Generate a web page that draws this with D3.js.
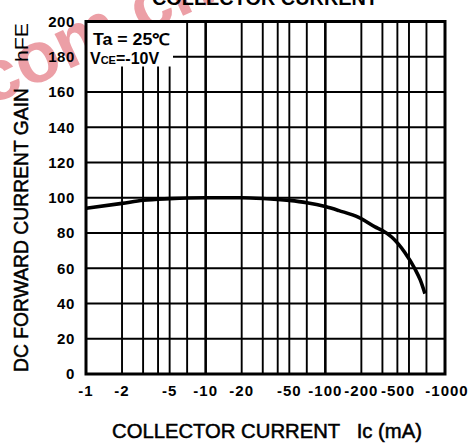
<!DOCTYPE html>
<html>
  <head>
    <meta charset="UTF-8" />
    <style>
      body {
        margin: 0;
        background: #fff;
      }
      svg {
        display: block;
        font-family: "Liberation Sans", Arial, sans-serif;
      }
    </style>
  </head>
  <body>
    <svg></svg>
    <script src="https://d3js.org/d3.v7.min.js"></script>
    <script>
      let width = 470,
        height = 443;

      // collector current (mA, absolute) and hFE
      const currentMA = [1, 2, 3, 5, 10, 20, 30, 50, 70, 100, 130, 190, 260, 300, 360, 460, 560, 620, 680];
      const hfeValues = [94, 96.8, 98.6, 99.5, 100, 100, 99.6, 98.5, 97.2, 95, 92.7, 88.9, 83.5, 81.4, 77.6, 69.1, 59.7, 53.5, 45.6];

      // grid and tick labels
      const xGrid = [1, 2, 3, 4, 5, 7, 10, 20, 30, 40, 50, 70, 100, 200, 300, 400, 500, 700, 1000];
      const xTicks = [1, 2, 5, 10, 20, 50, 100, 200, 500, 1000];
      const xTickLabels = ["-1", "-2", "-5", "-10", "-20", "-50", "-100", "-200", "-500", "-1000"];
      const yTicks = [0, 20, 40, 60, 80, 100, 120, 140, 160, 180, 200];

      let margin = { top: 21.5, right: 25, bottom: 69, left: 86 };

      let svg = d3.select("svg").attr("width", width).attr("height", height);

      let x = d3
        .scaleLog()
        .domain([1, 1000])
        .range([margin.left, width - margin.right]);
      let y = d3
        .scaleLinear()
        .domain([0, 200])
        .range([height - margin.bottom, margin.top]);

      // watermark from the scanned datasheet, sits behind the plot
      svg
        .append("text")
        .attr("transform", "translate(-10,106) rotate(-25)")
        .attr("font-size", 72)
        .attr("font-weight", "bold")
        .attr("fill", "#e0606c")
        .attr("opacity", 0.6)
        .text("com.cn");

      svg
        .append("rect")
        .attr("x", x(1))
        .attr("y", y(200))
        .attr("width", x(1000) - x(1))
        .attr("height", y(0) - y(200))
        .attr("fill", "#fff");

      // title, cut at the top edge
      svg
        .append("text")
        .attr("x", 265)
        .attr("y", 5)
        .attr("text-anchor", "middle")
        .attr("font-size", 20)
        .attr("font-weight", "bold")
        .attr("textLength", 226)
        .attr("lengthAdjust", "spacingAndGlyphs")
        .text("COLLECTOR CURRENT");

      let grid = svg.append("g").attr("stroke", "#000");

      grid
        .selectAll(".vline")
        .data(xGrid)
        .enter()
        .append("line")
        .attr("x1", (d) => x(d))
        .attr("x2", (d) => x(d))
        .attr("y1", y(0))
        .attr("y2", y(200))
        .attr("stroke-width", (d) => (d === 10 || d === 100 ? 2.6 : 1.9));

      grid
        .selectAll(".hline")
        .data(yTicks)
        .enter()
        .append("line")
        .attr("x1", x(1))
        .attr("x2", x(1000))
        .attr("y1", (d) => y(d))
        .attr("y2", (d) => y(d))
        .attr("stroke-width", 1.9);

      // condition box
      svg
        .append("rect")
        .attr("x", x(1))
        .attr("y", y(200))
        .attr("width", 87)
        .attr("height", 45)
        .attr("fill", "#fff");

      svg
        .append("text")
        .attr("x", 93)
        .attr("y", 45)
        .attr("font-size", 16)
        .attr("font-weight", "bold")
        .attr("textLength", 77)
        .attr("lengthAdjust", "spacingAndGlyphs")
        .text("Ta = 25\u2103");

      let vce = svg
        .append("text")
        .attr("x", 90)
        .attr("y", 64)
        .attr("font-size", 16)
        .attr("font-weight", "bold");
      vce.append("tspan").text("V");
      vce.append("tspan").attr("font-size", 11).text("CE");
      vce.append("tspan").text("=-10V");

      // curve
      let line = d3
        .line()
        .x((d, i) => x(currentMA[i]))
        .y((d) => y(d))
        .curve(d3.curveMonotoneX);

      svg
        .append("path")
        .datum(hfeValues)
        .attr("fill", "none")
        .attr("stroke", "#000")
        .attr("stroke-width", 3.6)
        .attr("d", line);

      // frame
      svg
        .append("rect")
        .attr("x", x(1))
        .attr("y", y(200))
        .attr("width", x(1000) - x(1))
        .attr("height", y(0) - y(200))
        .attr("fill", "none")
        .attr("stroke", "#000")
        .attr("stroke-width", 3);

      // y tick labels
      svg
        .append("g")
        .selectAll("text")
        .data(yTicks)
        .enter()
        .append("text")
        .attr("x", 75)
        .attr("y", (d) => y(d))
        .attr("dy", "0.36em")
        .attr("text-anchor", "end")
        .attr("font-size", 15)
        .attr("font-weight", "bold")
        .attr("letter-spacing", 0.6)
        .text((d) => d);

      // x tick labels
      svg
        .append("g")
        .selectAll("text")
        .data(xTicks)
        .enter()
        .append("text")
        .attr("x", (d) => x(d))
        .attr("dx", (d) => (d === 500 ? -11 : d === 1000 ? 2 : 0))
        .attr("y", 396)
        .attr("text-anchor", "middle")
        .attr("font-size", 15)
        .attr("font-weight", "bold")
        .attr("letter-spacing", 1)
        .text((d, i) => xTickLabels[i]);

      // axis titles
      svg
        .append("text")
        .attr("x", 112)
        .attr("y", 438)
        .attr("font-size", 20)
        .attr("stroke", "#000")
        .attr("stroke-width", 0.5)
        .attr("textLength", 310)
        .attr("lengthAdjust", "spacingAndGlyphs")
        .attr("xml:space", "preserve")
        .text("COLLECTOR CURRENT   Ic (mA)");

      svg
        .append("text")
        .attr("transform", "translate(28,372) rotate(-90)")
        .attr("font-size", 20)
        .attr("stroke", "#000")
        .attr("stroke-width", 0.5)
        .attr("textLength", 284)
        .attr("lengthAdjust", "spacingAndGlyphs")
        .text("DC FORWARD CURRENT GAIN");

      svg
        .append("text")
        .attr("transform", "translate(28,62) rotate(-90)")
        .attr("font-size", 18)
        .attr("textLength", 39)
        .attr("lengthAdjust", "spacingAndGlyphs")
        .text("hFE");
    </script>
  </body>
</html>
